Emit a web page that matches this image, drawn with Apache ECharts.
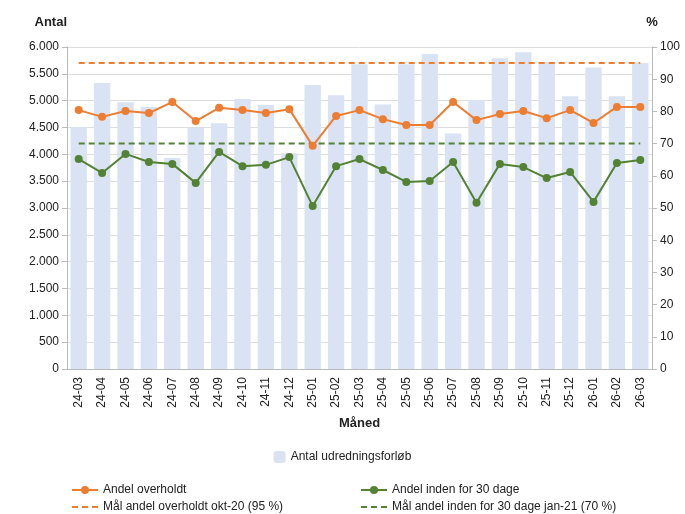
<!DOCTYPE html>
<html>
<head>
<meta charset="utf-8">
<script src="https://cdn.jsdelivr.net/npm/echarts@6/dist/echarts.min.js"></script>
<style>html,body{margin:0;padding:0;background:#fff}#c{width:685px;height:514px}</style>
</head>
<body>
<div id="c"></div>
<script>
const months = ["24-03","24-04","24-05","24-06","24-07","24-08","24-09","24-10","24-11","24-12","25-01","25-02","25-03","25-04","25-05","25-06","25-07","25-08","25-09","25-10","25-11","25-12","26-01","26-02","26-03"];
const antal = [4510,5330,4970,4880,3930,4490,4580,5030,4920,4020,5290,5100,5680,4930,5680,5870,4390,5010,5790,5900,5720,5080,5620,5080,5700];
const andelOverholdt = [80.4,78.3,80.1,79.5,82.9,77.0,81.1,80.4,79.5,80.7,69.3,78.6,80.4,77.6,75.8,75.8,82.9,77.3,79.2,80.1,77.9,80.4,76.4,81.4,81.4];
const andel30 = [65.2,60.9,66.8,64.3,63.7,57.8,67.4,63.0,63.4,65.8,50.6,63.0,65.2,61.8,58.1,58.4,64.3,51.6,63.7,62.7,59.3,61.2,51.9,64.0,64.9];
const maalOverholdt = 95;
const maal30 = 70;

const chart = echarts.init(document.getElementById('c'));
const font = 'Liberation Sans, Arial, sans-serif';
const lbl = {color:'#222', fontSize:12, fontFamily:font};
const fmt = v => v >= 1000 ? Math.floor(v/1000) + '.' + String(v%1000).padStart(3,'0') : String(v);
const lineLegend = (name, left, top, dashed) => ({
  data:[dashed ? {name, itemStyle:{opacity:0}} : name],
  left, top, itemWidth:26, itemHeight:10, textStyle:lbl
});
chart.setOption({
  animation:false,
  textStyle:{fontFamily:font},
  grid:{left:67,right:33,top:47,bottom:145},
  legend:[
    {data:['Antal udredningsforløb'],top:446,left:'center',itemWidth:12,itemHeight:12,textStyle:lbl},
    lineLegend('Andel overholdt',66,479,false),
    lineLegend('Mål andel overholdt okt-20 (95 %)',66,496,true),
    lineLegend('Andel inden for 30 dage',355,479,false),
    lineLegend('Mål andel inden for 30 dage jan-21 (70 %)',355,496,true)
  ],
  xAxis:{type:'category',data:months,name:'Måned',nameLocation:'middle',nameGap:48,
    nameTextStyle:{fontWeight:'bold',fontSize:13,color:'#222'},
    axisLabel:{rotate:90,color:'#222',fontSize:12,interval:0},
    axisLine:{lineStyle:{color:'#bbb'}},axisTick:{show:false}},
  yAxis:[
    {type:'value',min:0,max:6000,interval:500,name:'Antal',nameLocation:'end',nameGap:18,
      nameTextStyle:{fontWeight:'bold',fontSize:13,color:'#222',align:'right'},
      axisLabel:{color:'#222',fontSize:12,formatter:fmt},
      axisLine:{show:true,lineStyle:{color:'#bbb'}},axisTick:{show:true,lineStyle:{color:'#bbb'}},
      splitLine:{lineStyle:{color:'#ddd'}}},
    {type:'value',min:0,max:100,interval:10,name:'%',nameLocation:'end',nameGap:18,
      nameTextStyle:{fontWeight:'bold',fontSize:13,color:'#222'},
      axisLabel:{color:'#222',fontSize:12},
      axisLine:{show:true,lineStyle:{color:'#bbb'}},axisTick:{show:true,lineStyle:{color:'#bbb'}},
      splitLine:{show:false}}
  ],
  series:[
    {name:'Antal udredningsforløb',type:'bar',data:antal,barWidth:'70%',itemStyle:{color:'#dae3f3'}},
    {name:'Andel overholdt',type:'line',yAxisIndex:1,data:andelOverholdt,symbol:'circle',symbolSize:8,
      itemStyle:{color:'#ed7d31'},lineStyle:{width:2}},
    {name:'Andel inden for 30 dage',type:'line',yAxisIndex:1,data:andel30,symbol:'circle',symbolSize:8,
      itemStyle:{color:'#548235'},lineStyle:{width:2}},
    {name:'Mål andel overholdt okt-20 (95 %)',type:'line',yAxisIndex:1,data:months.map(()=>maalOverholdt),symbol:'none',
      itemStyle:{color:'#ed7d31'},lineStyle:{width:2,type:[6,4]}},
    {name:'Mål andel inden for 30 dage jan-21 (70 %)',type:'line',yAxisIndex:1,data:months.map(()=>maal30),symbol:'none',
      itemStyle:{color:'#548235'},lineStyle:{width:2,type:[6,4]}}
  ]
});
</script>
</body>
</html>
